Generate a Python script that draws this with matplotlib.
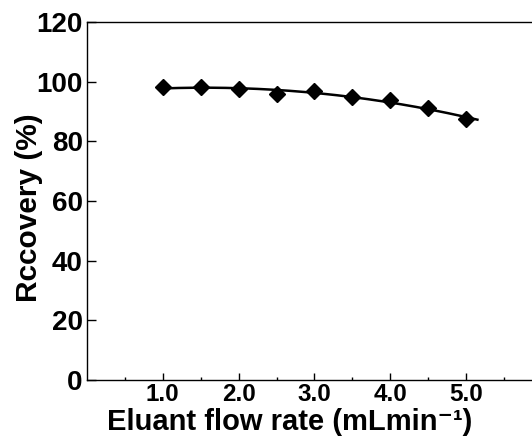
import matplotlib
matplotlib.use('Agg')
import matplotlib.pyplot as plt
import numpy as np

# flow rate (mL/min) and recovery (%)
flow_rate = [1.0, 1.5, 2.0, 2.5, 3.0, 3.5, 4.0, 4.5, 5.0]
recovery = [98.2, 98.1, 97.4, 95.8, 96.9, 95.0, 93.9, 91.1, 87.4]

x_ticks = [1.0, 2.0, 3.0, 4.0, 5.0]
x_tick_labels = ['1.0', '2.0', '3.0', '4.0', '5.0']
y_ticks = [0, 20, 40, 60, 80, 100, 120]

plt.rcParams['font.family'] = ['Liberation Sans', 'DejaVu Sans']
plt.rcParams['font.weight'] = 'bold'

fig = plt.figure(figsize=(5.32, 4.36), dpi=100)
ax = fig.add_axes([0.1635, 0.1284, 0.8365, 0.8211])

# quadratic trend line through the points
coef = np.polyfit(flow_rate, recovery, 2)
xs = np.linspace(flow_rate[0], flow_rate[-1] + 0.15, 200)
ax.plot(xs, np.polyval(coef, xs), color='black', linewidth=1.8, zorder=2)
ax.plot(flow_rate, recovery, linestyle='none', marker='D', markersize=8.5,
        color='black', zorder=3)

ax.set_xlim(0, 5.87)
ax.set_ylim(0, 120)
ax.set_xticks(x_ticks)
ax.set_xticklabels(x_tick_labels)
ax.set_xticks(np.arange(0.5, 5.6, 1.0), minor=True)
ax.set_yticks(y_ticks)

ax.tick_params(axis='both', which='major', direction='in', width=1)
ax.tick_params(axis='y', which='major', labelsize=20, pad=3, length=6.5)
ax.tick_params(axis='x', which='major', labelsize=17.5, pad=2, length=5)
ax.tick_params(axis='x', which='minor', direction='in', length=2.5, width=1)
for lbl in ax.get_xticklabels() + ax.get_yticklabels():
    lbl.set_fontweight('bold')

ax.spines['right'].set_visible(False)
for s in ['left', 'bottom', 'top']:
    ax.spines[s].set_linewidth(1.0)

# axis titles placed by hand (the original sits off-centre)
fig.text(0.545, 0.014, 'Eluant flow rate (mLmin\u207b\u00b9)', fontsize=21,
         fontweight='bold', ha='center', va='baseline')
fig.text(0.054, 0.523, 'Rccovery (%)', fontsize=21.5, fontweight='bold',
         rotation=90, ha='center', va='center')

fig.savefig('out.png', dpi=100)
